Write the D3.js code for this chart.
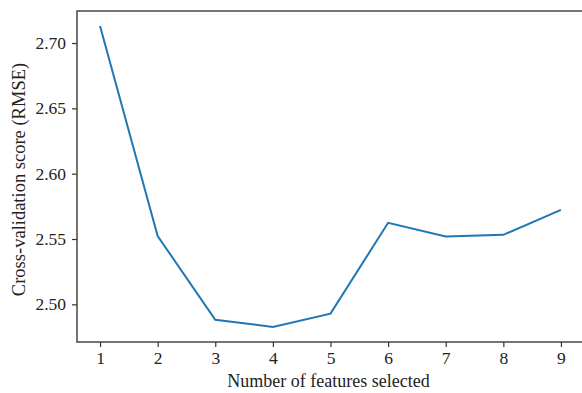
<!DOCTYPE html>
<html>
<head>
<meta charset="utf-8">
<script src="https://cdn.jsdelivr.net/npm/d3@7"></script>
<style>
  body { margin: 0; background: #fff; }
  svg { display: block; }
</style>
</head>
<body>
<div id="chart"></div>
<script>
// number of features vs cross-validation RMSE
var nFeatures = [1, 2, 3, 4, 5, 6, 7, 8, 9];
var rmse = [2.7130, 2.5523, 2.4882, 2.4827, 2.4929, 2.5624, 2.5519, 2.5532, 2.5723];
var xTicks = [1, 2, 3, 4, 5, 6, 7, 8, 9];
var yTicks = [2.50, 2.55, 2.60, 2.65, 2.70];

var width = 582, height = 393;
var margin = { top: 11, right: -2, bottom: 51, left: 77 };

var svg = d3.select("#chart")
    .append("svg")
    .attr("width", width)
    .attr("height", height);

var plotW = width - margin.left - margin.right;
var plotH = height - margin.top - margin.bottom;

var g = svg.append("g")
    .attr("transform", "translate(" + margin.left + "," + margin.top + ")");

// matplotlib style 5% padding
var xPad = (d3.max(nFeatures) - d3.min(nFeatures)) * 0.05;
var yPad = (d3.max(rmse) - d3.min(rmse)) * 0.05;

var x = d3.scaleLinear()
    .domain([d3.min(nFeatures) - xPad, d3.max(nFeatures) + xPad])
    .range([0, plotW]);

var y = d3.scaleLinear()
    .domain([d3.min(rmse) - yPad, d3.max(rmse) + yPad])
    .range([plotH, 0]);

var font = "'Liberation Serif', 'Times New Roman', serif";

// axes
var xAxis = g.append("g")
    .attr("transform", "translate(0," + plotH + ")")
    .call(d3.axisBottom(x).tickValues(xTicks).tickSize(5).tickPadding(5).tickFormat(d3.format("d")));

var yAxis = g.append("g")
    .call(d3.axisLeft(y).tickValues(yTicks).tickSize(5).tickPadding(6).tickFormat(d3.format(".2f")));

[xAxis, yAxis].forEach(function (a) {
    a.select(".domain").remove();
    a.selectAll(".tick line").attr("stroke", "#333").attr("stroke-width", 1.2);
    a.selectAll(".tick text")
        .attr("fill", "#222")
        .style("font-family", font)
        .style("font-size", "17.5px");
});

// frame
g.append("rect")
    .attr("x", 0)
    .attr("y", 0)
    .attr("width", plotW)
    .attr("height", plotH)
    .attr("fill", "none")
    .attr("stroke", "#3a3a3a")
    .attr("stroke-width", 1.4);

// the line
var line = d3.line()
    .x(function (d, i) { return x(nFeatures[i]); })
    .y(function (d) { return y(d); });

g.append("path")
    .datum(rmse)
    .attr("d", line)
    .attr("fill", "none")
    .attr("stroke", "#1f77b4")
    .attr("stroke-width", 2);

// labels
svg.append("text")
    .text("Number of features selected")
    .attr("x", margin.left + plotW / 2 - 2)
    .attr("y", 387)
    .attr("text-anchor", "middle")
    .attr("fill", "#222")
    .style("font-family", font)
    .style("font-size", "18px");

svg.append("text")
    .text("Cross-validation score (RMSE)")
    .attr("transform", "translate(25," + (margin.top + plotH / 2 + 3) + ") rotate(-90)")
    .attr("text-anchor", "middle")
    .attr("fill", "#222")
    .style("font-family", font)
    .style("font-size", "18.5px");
</script>
</body>
</html>
